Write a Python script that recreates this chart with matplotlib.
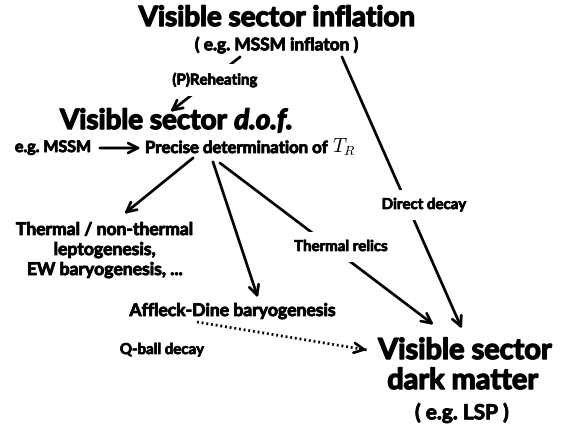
import matplotlib
matplotlib.use("Agg")
import matplotlib.pyplot as plt
import matplotlib.patheffects as pe

plt.rcParams['font.family'] = ['Lato', 'DejaVu Sans']
plt.rcParams['mathtext.fontset'] = 'cm'

# node labels: (text, x, y, size)
labels = [
    ("Visible sector inflation", 277, 18, 20),
    ("( e.g. MSSM inflaton )", 277, 45, 12.4),
    ("e.g. MSSM", 53, 148, 11.5),
    ("Thermal / non-thermal", 105, 230, 12.6),
    ("leptogenesis,", 105, 250, 12.6),
    ("EW baryogenesis, ...", 105, 270, 12.6),
    ("Affleck-Dine baryogenesis", 233, 311, 12.6),
    ("Visible sector", 465, 351, 20.8),
    ("dark matter", 463, 381, 20.8),
    ("( e.g. LSP )", 462, 413, 15),
]

# edge labels sit on the arrows (white box hides the line)
edge_labels = [
    ("(P)Reheating", 215, 80),
    ("Thermal relics", 341, 247),
    ("Direct decay", 424, 205),
]
plain_labels = [
    ("Q-ball decay", 162, 350),
]

# arrows: (start, end)
arrows = [
    ((240, 57), (170, 112)),
    ((100, 148), (141, 148)),
    ((193, 158), (124, 214)),
    ((213, 162), (258, 298)),
    ((220, 163), (434, 325)),
    ((342, 57), (462, 329)),
]
dotted = ((197, 322), (367, 350))

W = 'bold'


def heavy(lw):
    # Lato Bold is lighter than the original face, thicken it a bit
    return [pe.withStroke(linewidth=lw, foreground='black')]


def right_edge(t):
    bb = t.get_window_extent()
    return ax.transData.inverted().transform((bb.x1, bb.y0))[0]


fig = plt.figure(figsize=(5.66, 4.26), dpi=100)
ax = fig.add_axes([0, 0, 1, 1])
ax.set_xlim(0, 566)
ax.set_ylim(426, 0)
ax.axis('off')

head = "->,head_length=0.7,head_width=0.35"
for (x0, y0), (x1, y1) in arrows:
    ax.annotate("", xy=(x1, y1), xytext=(x0, y0),
                arrowprops=dict(arrowstyle=head, lw=2, color="black",
                                shrinkA=0, shrinkB=0), zorder=1)

(x0, y0), (x1, y1) = dotted
ax.plot([x0, x1], [y0, y1], color='black', lw=2.0, linestyle=(0, (0.7, 1.0)), zorder=1)
ax.annotate("", xy=(x1, y1), xytext=(x1 - (x1 - x0) * 0.04, y1 - (y1 - y0) * 0.04),
            arrowprops=dict(arrowstyle=head, lw=2, color="black",
                            shrinkA=0, shrinkB=0), zorder=1)

for txt, x, y, s in labels:
    ax.text(x, y, txt, fontsize=s, fontweight=W, ha='center', va='center', zorder=3,
            path_effects=heavy(1.0 if s > 16 else 0.6))

# "Visible sector d.o.f." with italic part
t1 = ax.text(60, 121, "Visible sector", fontsize=20, fontweight=W, ha='left', va='center',
             path_effects=heavy(1.0))
t2 = ax.text(145, 148, "Precise determination of", fontsize=12, fontweight=W,
             ha='left', va='center', path_effects=heavy(0.6))
fig.canvas.draw()
ax.text(right_edge(t1) + 7, 121, "d.o.f.", fontsize=20, fontweight=W, style='italic',
        ha='left', va='center', path_effects=heavy(1.0))
ax.text(right_edge(t2) + 5, 147, r"$T_R$", fontsize=14, ha='left', va='center')

for txt, x, y in edge_labels:
    ax.text(x, y, txt, fontsize=10.8, fontweight=W, ha='center', va='center', zorder=3,
            path_effects=heavy(0.5),
            bbox=dict(facecolor='white', edgecolor='none', pad=6))
for txt, x, y in plain_labels:
    ax.text(x, y, txt, fontsize=10.8, fontweight=W, ha='center', va='center', zorder=3,
            path_effects=heavy(0.5))

fig.savefig("out.png", dpi=100)
